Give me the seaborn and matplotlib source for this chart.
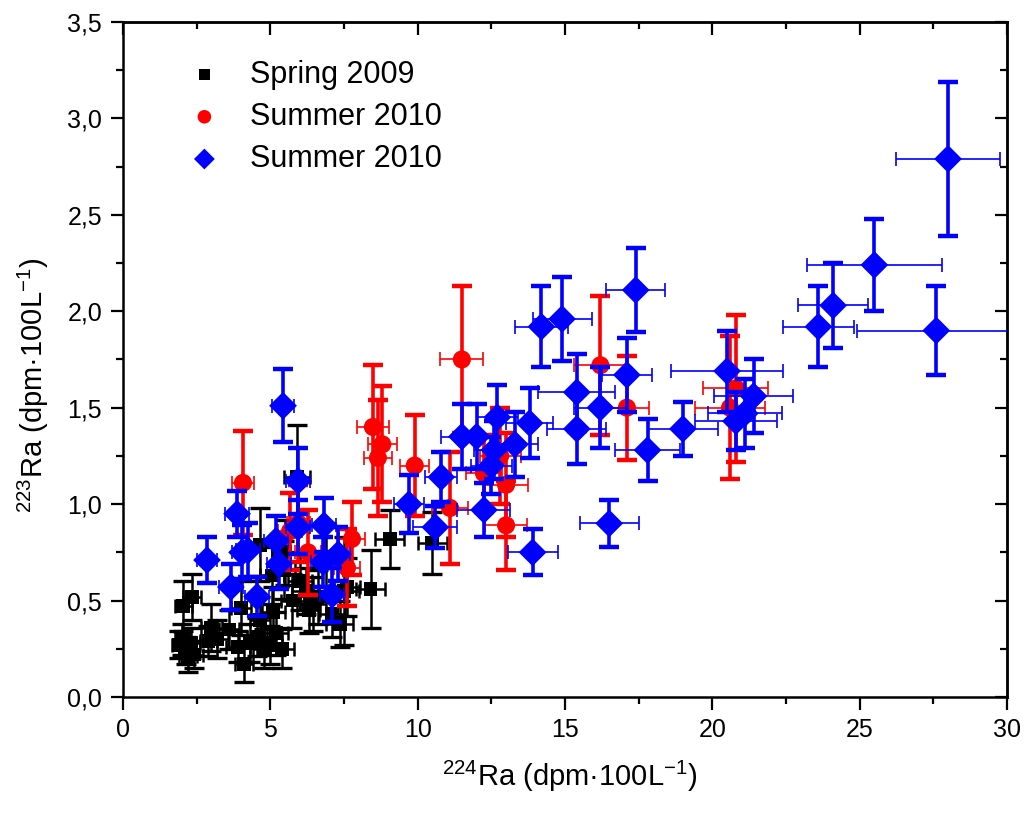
import pandas as pd
import numpy as np
import matplotlib
matplotlib.use('Agg')
import matplotlib.pyplot as plt
from matplotlib.ticker import MultipleLocator, FuncFormatter
import seaborn as sns

# Spring 2009 (black squares): x, y, xerr, yerr
spring_x = [1.9, 2.0, 2.05, 2.15, 2.2, 2.3, 2.35, 2.4, 2.9, 3.0, 3.2, 3.6, 3.9, 4.0, 4.1, 4.3,
            4.55, 4.65, 4.65, 4.8, 5.0, 5.05, 5.1, 5.2, 5.4, 5.45, 5.5, 5.75, 5.9, 6.0, 6.2,
            6.3, 6.45, 6.6, 6.9, 7.1, 7.35, 7.5, 7.6, 8.4, 9.05, 10.5]
spring_y = [0.27, 0.30, 0.47, 0.24, 0.21, 0.28, 0.52, 0.22, 0.29, 0.36, 0.30, 0.35, 0.26, 0.46,
            0.17, 0.28, 0.31, 0.40, 0.79, 0.25, 0.27, 0.63, 0.44, 0.33, 0.25, 0.66, 0.75, 0.50,
            1.14, 0.60, 0.55, 0.45, 0.48, 0.52, 0.70, 0.43, 0.38, 0.55, 0.57, 0.56, 0.82, 0.80]
spring_xerr = [0.25, 0.25, 0.3, 0.25, 0.3, 0.3, 0.3, 0.3, 0.3, 0.35, 0.35, 0.35, 0.4, 0.35, 0.3,
               0.35, 0.35, 0.35, 0.4, 0.4, 0.4, 0.4, 0.4, 0.4, 0.4, 0.4, 0.45, 0.4, 0.45, 0.4,
               0.45, 0.4, 0.45, 0.45, 0.45, 0.45, 0.45, 0.5, 0.45, 0.5, 0.5, 0.5]
spring_yerr = [0.07, 0.08, 0.13, 0.07, 0.08, 0.08, 0.12, 0.07, 0.08, 0.12, 0.1, 0.1, 0.08, 0.14,
               0.09, 0.1, 0.1, 0.12, 0.19, 0.1, 0.1, 0.15, 0.13, 0.11, 0.1, 0.15, 0.17, 0.14,
               0.27, 0.15, 0.12, 0.12, 0.14, 0.14, 0.2, 0.12, 0.12, 0.28, 0.15, 0.2, 0.15, 0.16]

# Summer 2010 (red circles)
red_x = [4.07, 5.67, 5.95, 6.28, 7.6, 7.77, 8.48, 8.65, 8.8, 9.9, 11.1, 11.5, 12.25, 12.8,
         13.0, 13.0, 16.2, 17.1, 20.6, 20.8]
red_y = [1.11, 0.86, 0.90, 0.75, 0.67, 0.82, 1.40, 1.24, 1.31, 1.20, 0.98, 1.75, 1.16, 1.25,
         1.10, 0.89, 1.72, 1.50, 1.50, 1.60]
red_xerr = [0.38, 0.4, 0.4, 0.45, 0.45, 0.45, 0.55, 0.47, 0.5, 0.5, 0.6, 0.73, 0.6, 0.7,
            0.75, 0.7, 0.9, 0.75, 1.2, 1.1]
red_yerr = [0.27, 0.2, 0.2, 0.22, 0.2, 0.19, 0.32, 0.3, 0.3, 0.26, 0.29, 0.38, 0.2, 0.25,
            0.27, 0.23, 0.36, 0.27, 0.37, 0.38]

# Summer 2010 (blue diamonds)
blue_x = [2.85, 3.66, 3.87, 4.04, 4.24, 4.55, 5.19, 5.29, 5.43, 5.94, 5.94, 6.79, 6.82, 7.1,
          7.3, 9.7, 10.6, 10.8, 11.5, 12.0, 12.25, 12.5, 12.6, 12.7, 13.3, 13.8, 13.9, 14.2,
          14.9, 15.4, 15.4, 16.2, 16.5, 17.1, 17.4, 17.8, 19.0, 20.5, 20.8, 21.1, 21.4, 23.6,
          24.1, 25.5, 27.6, 28.0]
blue_y = [0.71, 0.57, 0.95, 0.75, 0.76, 0.52, 0.81, 0.69, 1.51, 0.88, 1.12, 0.70, 0.89, 0.53,
          0.74, 1.00, 0.88, 1.14, 1.35, 1.35, 0.97, 1.20, 1.28, 1.45, 1.31, 1.42, 0.75, 1.92,
          1.96, 1.39, 1.58, 1.50, 0.90, 1.67, 2.11, 1.28, 1.39, 1.69, 1.43, 1.47, 1.56, 1.92,
          2.03, 2.24, 1.90, 2.79]
blue_xerr = [0.35, 0.4, 0.4, 0.35, 0.4, 0.4, 0.4, 0.4, 0.37, 0.4, 0.4, 0.4, 0.4, 0.4, 0.4,
             0.5, 0.75, 0.55, 0.7, 0.7, 0.9, 0.7, 0.7, 0.7, 0.8, 0.8, 0.85, 0.9, 1.0, 1.0,
             1.3, 0.9, 1.0, 0.85, 1.0, 1.1, 1.2, 1.9, 1.4, 1.25, 1.35, 1.2, 1.2, 2.3, 2.7, 1.75]
blue_yerr = [0.12, 0.12, 0.12, 0.14, 0.14, 0.1, 0.13, 0.13, 0.19, 0.14, 0.17, 0.13, 0.14, 0.14,
             0.14, 0.15, 0.11, 0.13, 0.17, 0.17, 0.14, 0.15, 0.15, 0.17, 0.17, 0.18, 0.12, 0.21,
             0.22, 0.18, 0.2, 0.21, 0.12, 0.19, 0.22, 0.16, 0.14, 0.21, 0.15, 0.18, 0.19, 0.21,
             0.22, 0.24, 0.23, 0.40]

labels = ['Spring 2009', 'Summer 2010', 'Summer 2010']

df = pd.concat([
    pd.DataFrame({'x': spring_x, 'y': spring_y, 'xerr': spring_xerr, 'yerr': spring_yerr, 'g': 0}),
    pd.DataFrame({'x': red_x, 'y': red_y, 'xerr': red_xerr, 'yerr': red_yerr, 'g': 1}),
    pd.DataFrame({'x': blue_x, 'y': blue_y, 'xerr': blue_xerr, 'yerr': blue_yerr, 'g': 2}),
])

sns.set_style('white')
plt.rcParams['font.family'] = ['Liberation Sans', 'DejaVu Sans']
plt.rcParams['mathtext.fontset'] = 'custom'
plt.rcParams['mathtext.rm'] = 'Liberation Sans'
plt.rcParams['mathtext.it'] = 'Liberation Sans:italic'
for k in ['text.color', 'axes.labelcolor', 'xtick.color', 'ytick.color']:
    plt.rcParams[k] = 'black'

fig = plt.figure(figsize=(10.27, 8.13), dpi=100)
ax = fig.add_axes([0.1198, 0.1427, 0.8607, 0.8303])

colors = ['black', '#ff0000', '#0000ff']
markers = ['s', 'o', 'D']
sizes = [100, 170, 200]
elw = [(1.8, 1.8), (1.2, 2.6), (1.2, 2.6)]

for g in range(3):
    d = df[df['g'] == g]
    # horizontal and vertical bars drawn separately to get different widths
    ax.errorbar(d['x'], d['y'], xerr=d['xerr'], fmt='none', ecolor=colors[g],
                elinewidth=elw[g][0], capsize=5, capthick=elw[g][0], zorder=2 + g)
    ax.errorbar(d['x'], d['y'], yerr=d['yerr'], fmt='none', ecolor=colors[g],
                elinewidth=elw[g][1], capsize=7, capthick=elw[g][1] + 0.6, zorder=2 + g)
    sns.scatterplot(data=d, x='x', y='y', marker=markers[g], color=colors[g], s=sizes[g],
                    edgecolor='none', linewidth=0, ax=ax, label=labels[g], zorder=3 + g)

ax.set_xlim(0, 30)
ax.set_ylim(0, 3.5)
ax.xaxis.set_major_locator(MultipleLocator(5))
ax.xaxis.set_minor_locator(MultipleLocator(2.5))
ax.yaxis.set_major_locator(MultipleLocator(0.5))
ax.yaxis.set_minor_locator(MultipleLocator(0.25))
ax.yaxis.set_major_formatter(FuncFormatter(lambda v, p: f'{v:.1f}'.replace('.', ',')))
ax.xaxis.set_major_formatter(FuncFormatter(lambda v, p: f'{v:.0f}'))

ax.tick_params(which='major', direction='out', length=9, width=1.6, labelsize=18, pad=6,
               bottom=True, left=True, colors='black')
ax.tick_params(which='minor', direction='out', length=5, width=1.6, bottom=True, left=True,
               colors='black')
for s in ax.spines.values():
    s.set_linewidth(1.8)
    s.set_color('black')

# mirrored ticks on top and right pointing inward
top = ax.secondary_xaxis('top')
top.xaxis.set_major_locator(MultipleLocator(5))
top.xaxis.set_minor_locator(MultipleLocator(2.5))
top.tick_params(which='major', direction='in', length=9, width=1.6, labeltop=False)
top.tick_params(which='minor', direction='in', length=5, width=1.6)
right = ax.secondary_yaxis('right')
right.yaxis.set_major_locator(MultipleLocator(0.5))
right.yaxis.set_minor_locator(MultipleLocator(0.25))
right.tick_params(which='major', direction='in', length=9, width=1.6, labelright=False)
right.tick_params(which='minor', direction='in', length=5, width=1.6)
for sa in (top, right):
    for s in sa.spines.values():
        s.set_linewidth(1.8)

ax.set_xlabel('$^{224}$Ra (dpm·100L$^{-1}$)', fontsize=21)
ax.set_ylabel('$^{223}$Ra (dpm·100L$^{-1}$)', fontsize=21)
ax.xaxis.set_label_coords(0.505, -0.092)
ax.yaxis.set_label_coords(-0.081, 0.462)

handles, _ = ax.get_legend_handles_labels()
ax.legend(handles=handles, labels=labels, loc='upper left', bbox_to_anchor=(0.035, 0.985),
          frameon=False, fontsize=22, handletextpad=0.75, labelspacing=0.4, markerscale=0.75,
          handlelength=1.5)

fig.savefig('out.png', dpi=100)
